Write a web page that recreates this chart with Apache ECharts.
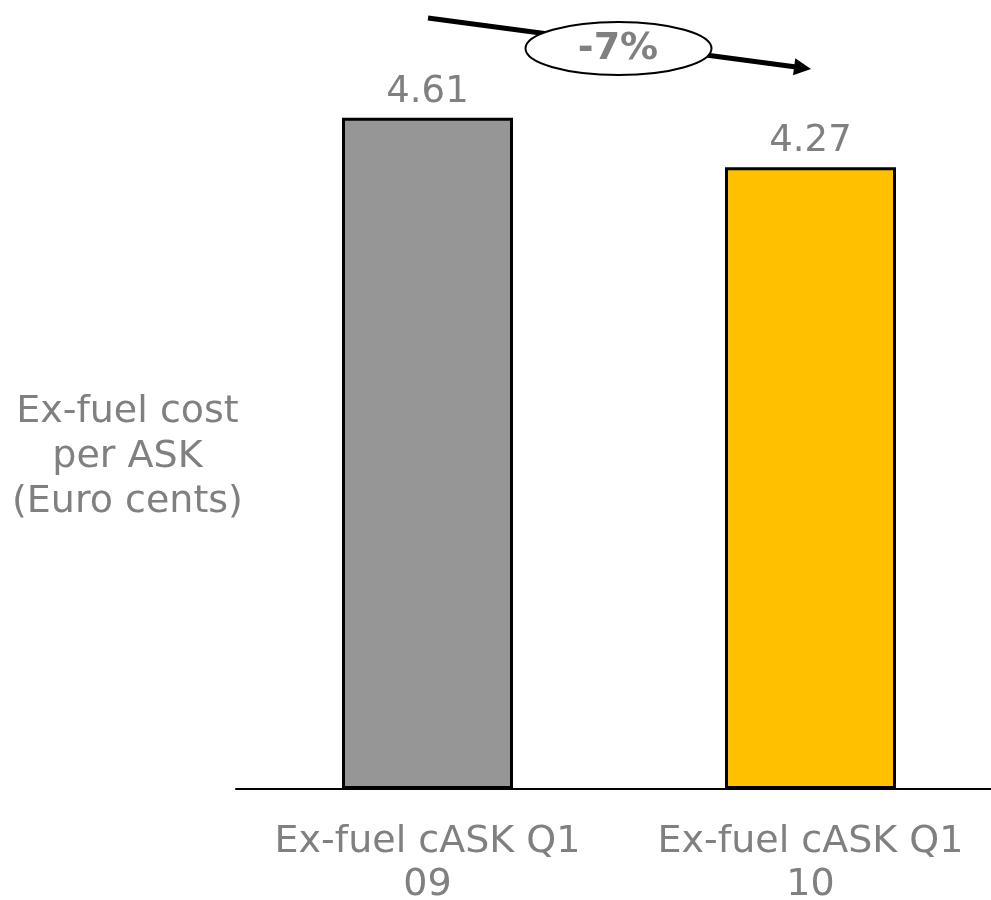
<!DOCTYPE html>
<html>
<head>
<meta charset="utf-8">
<script src="https://cdn.jsdelivr.net/npm/echarts@6/dist/echarts.min.js"></script>
<style>
  html, body { margin: 0; padding: 0; background: #ffffff; }
  #chart { width: 991px; height: 900px; }
</style>
</head>
<body>
<div id="chart"></div>
<script>
// Ex-fuel cost per available seat kilometre, Q1 2009 vs Q1 2010
const categories = ['Ex-fuel cASK Q1\n09', 'Ex-fuel cASK Q1\n10'];
const values = [4.61, 4.27];
const barColors = ['#969696', '#FFC000'];
const changeLabel = '-7%';
const axisTitle = 'Ex-fuel cost\nper ASK\n(Euro cents)';

const textGrey = '#808080';
const font = 'DejaVu Sans, Verdana, sans-serif';

const chart = echarts.init(document.getElementById('chart'), null, { renderer: 'canvas' });

// arrow geometry for the year-on-year change marker
const arrowStart = [428, 18];
const arrowTip = [811, 69];
const dx = arrowTip[0] - arrowStart[0], dy = arrowTip[1] - arrowStart[1];
const len = Math.hypot(dx, dy);
const ux = dx / len, uy = dy / len;
const headLen = 17, headHalf = 8.5;
const baseX = arrowTip[0] - ux * headLen, baseY = arrowTip[1] - uy * headLen;

chart.setOption({
  animation: false,
  backgroundColor: '#ffffff',
  grid: {
    left: 236, top: 61, right: -11, bottom: 111,
    outerBoundsMode: 'none',
    containLabel: false
  },
  xAxis: {
    type: 'category',
    data: categories,
    axisLine: { show: true, lineStyle: { color: '#000000', width: 2 } },
    axisTick: { show: false },
    axisLabel: {
      color: textGrey,
      fontFamily: font,
      fontSize: 38,
      lineHeight: 43,
      margin: 32,
      interval: 0
    }
  },
  yAxis: {
    type: 'value',
    min: 0,
    max: 5,
    show: false,
    splitLine: { show: false }
  },
  series: [{
    type: 'bar',
    barWidth: 171,
    data: values.map((v, i) => ({
      value: v,
      itemStyle: { color: barColors[i] }
    })),
    itemStyle: { borderColor: '#000000', borderWidth: 3 },
    label: {
      show: true,
      position: 'top',
      distance: 7,
      color: textGrey,
      fontFamily: font,
      fontSize: 37,
      formatter: p => p.value.toFixed(2)
    }
  }],
  graphic: [
    {
      type: 'text',
      left: 12,
      top: 390,
      style: {
        text: axisTitle,
        fill: textGrey,
        font: '38px ' + font,
        lineHeight: 45,
        textAlign: 'center',
        x: 118
      }
    },
    {
      type: 'line',
      z: 10,
      shape: { x1: arrowStart[0], y1: arrowStart[1], x2: baseX + ux * 2, y2: baseY + uy * 2 },
      style: { stroke: '#000000', lineWidth: 5 }
    },
    {
      type: 'polygon',
      z: 10,
      shape: {
        points: [
          arrowTip,
          [baseX - uy * headHalf, baseY + ux * headHalf],
          [baseX + uy * headHalf, baseY - ux * headHalf]
        ]
      },
      style: { fill: '#000000' }
    },
    {
      type: 'ellipse',
      z: 11,
      shape: { cx: 618.5, cy: 48.5, rx: 93, ry: 26.5 },
      style: { fill: '#ffffff', stroke: '#000000', lineWidth: 2 }
    },
    {
      type: 'text',
      z: 12,
      x: 618,
      y: 49,
      style: {
        text: changeLabel,
        fill: textGrey,
        font: 'bold 38px ' + font,
        align: 'center',
        verticalAlign: 'middle'
      }
    }
  ]
});
</script>
</body>
</html>
